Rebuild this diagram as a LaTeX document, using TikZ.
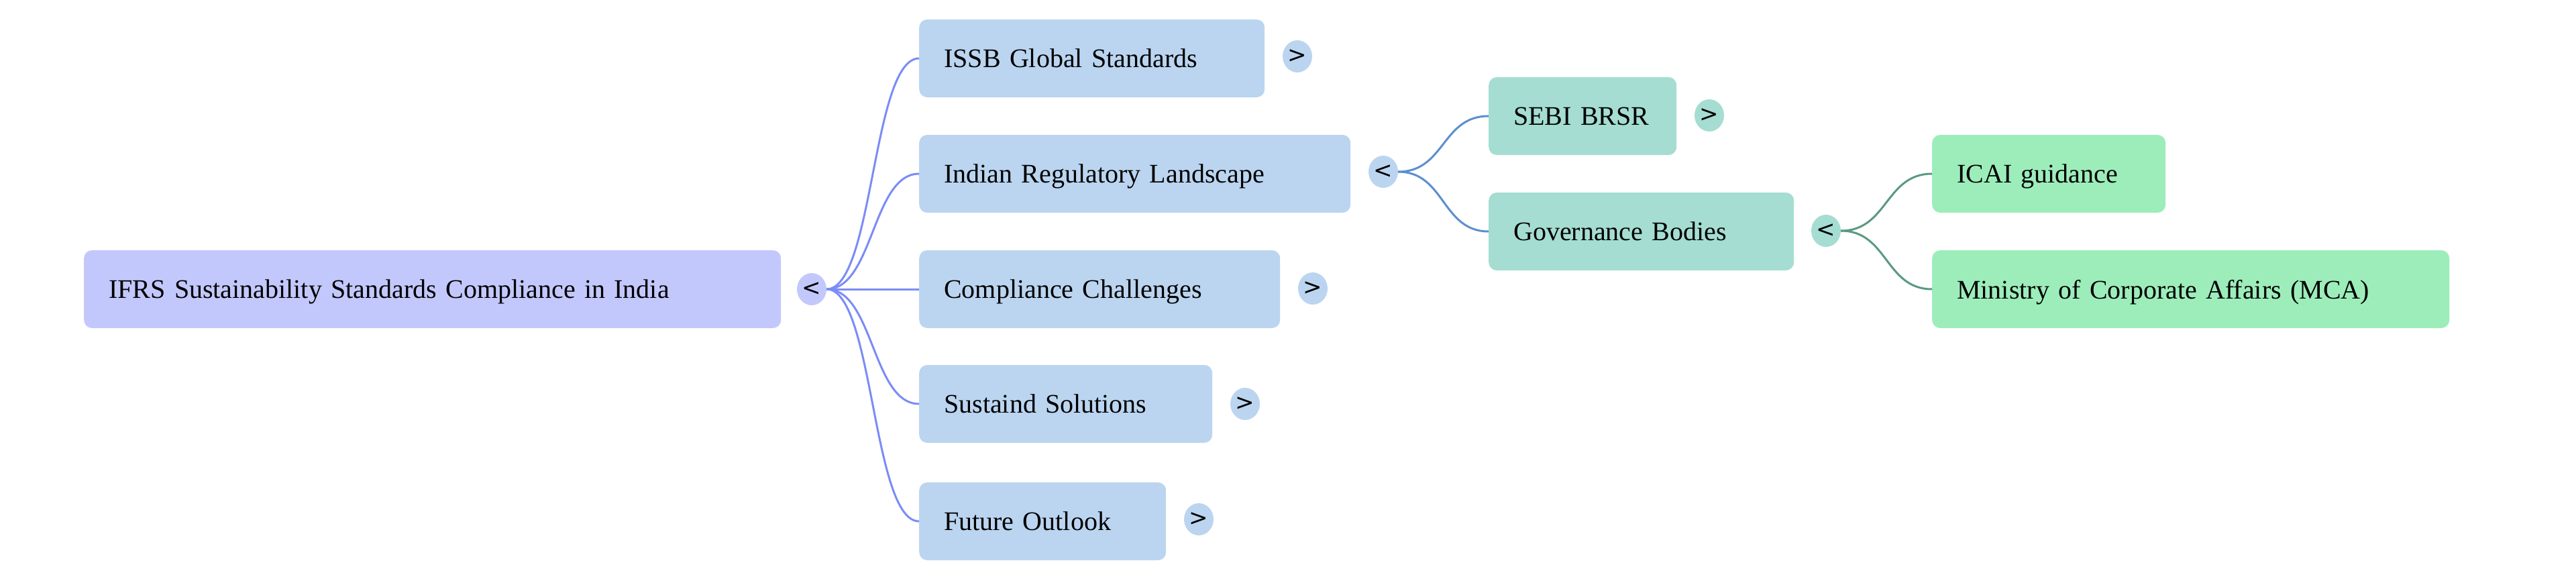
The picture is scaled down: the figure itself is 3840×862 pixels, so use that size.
\documentclass[tikz,border=0pt]{standalone}
\usepackage{fontspec}
\usetikzlibrary{shapes.geometric}
\setmainfont{Liberation Serif}
\newfontfamily\chev{DejaVu Sans}
\definecolor{cRoot}{HTML}{C3C8FC}
\definecolor{cL1}{HTML}{BBD5F0}
\definecolor{cL2}{HTML}{A5DDD2}
\definecolor{cL3}{HTML}{9DEDBB}
\definecolor{eRoot}{HTML}{7B8CF6}
\definecolor{eL1}{HTML}{5B8FD0}
\definecolor{eL2}{HTML}{5A9A80}
\begin{document}
\begin{tikzpicture}[x=1pt,y=-1pt,
  box/.style={anchor=west,rounded corners=12pt,minimum height=116pt,inner xsep=37pt,inner ysep=0pt,font=\fontsize{40}{48}\selectfont,align=left,text depth=0pt},
  tog/.style={ellipse,minimum width=44pt,minimum height=48pt,inner sep=0pt,font=\chev\fontsize{34}{34}\selectfont},
  edge/.style={line width=3pt}]
\useasboundingbox (0,0) rectangle (3840,862);
\newcommand{\bx}[5]{\node[box,fill=#4,text width=#3-74pt] (#1) at (#2) {#5};}
\bx{root}{125,431}{1039pt}{cRoot}{IFRS Sustainability Standards Compliance in India}
\node[tog,fill=cRoot] (troot) at (1210,431) {<};
\bx{issb}{1370,87}{515pt}{cL1}{ISSB Global Standards}
\node[tog,fill=cL1] (tissb) at (1934,84) {>};
\bx{ind}{1370,259}{643pt}{cL1}{Indian Regulatory Landscape}
\node[tog,fill=cL1] (tind) at (2062,256) {<};
\bx{comp}{1370,431}{538pt}{cL1}{Compliance Challenges}
\node[tog,fill=cL1] (tcomp) at (1957,430) {>};
\bx{sus}{1370,602}{437pt}{cL1}{Sustaind Solutions}
\node[tog,fill=cL1] (tsus) at (1856,602) {>};
\bx{fut}{1370,777}{368pt}{cL1}{Future Outlook}
\node[tog,fill=cL1] (tfut) at (1787,774) {>};
\bx{sebi}{2219,173}{280pt}{cL2}{SEBI BRSR}
\node[tog,fill=cL2] (tsebi) at (2548,172) {>};
\bx{gov}{2219,345}{455pt}{cL2}{Governance Bodies}
\node[tog,fill=cL2] (tgov) at (2722,344) {<};
\bx{icai}{2880,259}{348pt}{cL3}{ICAI guidance}
\bx{mca}{2880,431}{771pt}{cL3}{Ministry of Corporate Affairs (MCA)}
\foreach \c in {issb,ind,comp,sus,fut}{
  \draw[edge,eRoot] (troot.east) .. controls +(70,0) and ([xshift=-70pt]\c.west) .. (\c.west);}
\foreach \c in {sebi,gov}{
  \draw[edge,eL1] (tind.east) .. controls +(70,0) and ([xshift=-70pt]\c.west) .. (\c.west);}
\foreach \c in {icai,mca}{
  \draw[edge,eL2] (tgov.east) .. controls +(70,0) and ([xshift=-70pt]\c.west) .. (\c.west);}
\end{tikzpicture}
\end{document}
